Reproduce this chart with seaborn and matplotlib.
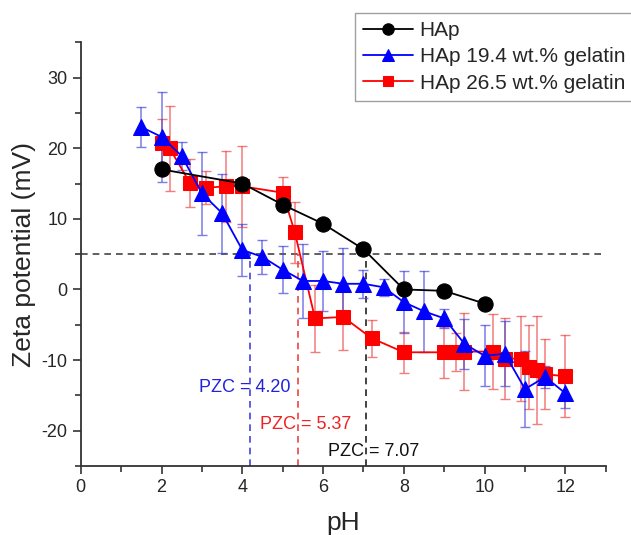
import matplotlib
matplotlib.use("Agg")
import matplotlib.pyplot as plt
import seaborn as sns
import pandas as pd
from matplotlib.ticker import MultipleLocator

# ---- data ----
ph_hap = [2, 4, 5, 6, 7, 8, 9, 10]
zeta_hap = [17.0, 15.0, 12.0, 9.3, 5.7, 0.0, -0.2, -2.0]

ph_g194 = [1.5, 2.0, 2.5, 3.0, 3.5, 4.0, 4.5, 5.0, 5.5, 6.0, 6.5, 7.0, 7.5,
           8.0, 8.5, 9.0, 9.5, 10.0, 10.5, 11.0, 11.5, 12.0]
zeta_g194 = [23.0, 21.6, 18.9, 13.6, 10.8, 5.6, 4.6, 2.8, 1.2, 1.2, 0.8, 0.8, 0.3,
             -1.8, -3.1, -4.1, -7.7, -9.4, -9.1, -14.1, -12.4, -14.7]
err_g194 = [2.8, 6.4, 2.0, 5.9, 5.6, 3.7, 2.4, 3.3, 5.3, 4.3, 5.0, 2.0, 1.2,
            4.4, 5.7, 1.3, 3.5, 4.3, 4.6, 5.4, 1.5, 2.1]

ph_g265 = [2.0, 2.2, 2.7, 3.1, 3.6, 4.0, 5.0, 5.3, 5.8, 6.5, 7.2, 8.0, 9.0,
           9.3, 9.5, 10.2, 10.5, 10.9, 11.1, 11.3, 11.5, 12.0]
zeta_g265 = [20.7, 20.0, 15.1, 14.4, 14.6, 14.6, 13.7, 8.1, -4.1, -3.9, -6.9, -8.9, -8.9,
             -8.9, -8.8, -8.8, -9.8, -9.8, -11.0, -11.4, -12.0, -12.3]
err_g265 = [3.5, 6.0, 3.4, 2.3, 5.0, 5.7, 2.2, 4.3, 4.7, 4.7, 2.6, 2.9, 3.6,
            2.7, 5.5, 5.3, 5.7, 6.0, 6.0, 7.6, 5.0, 5.8]

pzc_values = [4.20, 5.37, 7.07]
pzc_labels = ["PZC = 4.20", "PZC = 5.37", "PZC = 7.07"]
ref_level = 5

labels = ["HAp", "HAp 19.4 wt.% gelatin", "HAp 26.5 wt.% gelatin"]

# ---- style ----
sns.set_style("ticks")
plt.rcParams["font.family"] = ["Liberation Sans", "DejaVu Sans"]
plt.rcParams["axes.unicode_minus"] = False

fig = plt.figure(figsize=(6.31, 5.35), dpi=100)
ax = fig.add_axes([0.128, 0.129, 0.832, 0.792])

df_hap = pd.DataFrame({"pH": ph_hap, "zeta": zeta_hap})
df_194 = pd.DataFrame({"pH": ph_g194, "zeta": zeta_g194})
df_265 = pd.DataFrame({"pH": ph_g265, "zeta": zeta_g265})

# error bars
ax.errorbar(ph_g265, zeta_g265, yerr=err_g265, fmt="none", ecolor="#ee4444",
            elinewidth=1.1, capsize=3.5, capthick=1.0, alpha=0.7, zorder=2)
ax.errorbar(ph_g194, zeta_g194, yerr=err_g194, fmt="none", ecolor="#4444dd",
            elinewidth=1.1, capsize=3.5, capthick=1.0, alpha=0.7, zorder=2)

# lines
sns.lineplot(data=df_hap, x="pH", y="zeta", ax=ax, color="black", marker="o",
             markersize=11, markeredgecolor="black", linewidth=1.3, sort=False,
             estimator=None, label=labels[0], zorder=5)
sns.lineplot(data=df_194, x="pH", y="zeta", ax=ax, color="#0000ff", marker="^",
             markersize=12, markeredgecolor="#0000ff", linewidth=1.3, sort=False,
             estimator=None, label=labels[1], zorder=4)
sns.lineplot(data=df_265, x="pH", y="zeta", ax=ax, color="#ff0000", marker="s",
             markersize=10, markeredgecolor="#ff0000", linewidth=1.3, sort=False,
             estimator=None, label=labels[2], zorder=3)

# reference dashed lines
ax.plot([0, 13], [ref_level, ref_level], ls=(0, (4, 3)), color="#444444", lw=1.2, zorder=1)
pzc_colors = ["#4444dd", "#ee4444", "#222222"]
for v, c in zip(pzc_values, pzc_colors):
    ax.plot([v, v], [-25, ref_level], ls=(0, (4, 3)), color=c, lw=1.2, zorder=1)

# annotations
ax.text(2.92, -13.9, pzc_labels[0], color="#2222dd", fontsize=13, va="center", ha="left")
ax.text(4.43, -19.1, pzc_labels[1], color="#ee2222", fontsize=13, va="center", ha="left")
ax.text(6.11, -23.0, pzc_labels[2], color="#111111", fontsize=13, va="center", ha="left")

ax.set_xlim(0, 13)
ax.set_ylim(-25, 35)
ax.set_xticks([0, 2, 4, 6, 8, 10, 12])
ax.set_yticks([-20, -10, 0, 10, 20, 30])
ax.xaxis.set_minor_locator(MultipleLocator(1))
ax.yaxis.set_minor_locator(MultipleLocator(5))
ax.tick_params(axis="both", which="major", direction="out", length=6, width=1.2,
               labelsize=13, color="#333333")
ax.tick_params(axis="both", which="minor", direction="out", length=4, width=1.2,
               color="#333333")
for s in ["top", "right"]:
    ax.spines[s].set_visible(False)
for s in ["left", "bottom"]:
    ax.spines[s].set_linewidth(1.3)
    ax.spines[s].set_color("#333333")

ax.set_xlabel("pH", fontsize=19, labelpad=11)
ax.set_ylabel("Zeta potential (mV)", fontsize=19, labelpad=4)

ax.legend(loc="upper left", bbox_to_anchor=(0.5626, 0.9757), bbox_transform=fig.transFigure,
          fontsize=15, frameon=True, fancybox=False, edgecolor="#888888",
          borderpad=0.4, labelspacing=0.34, handlelength=2.4, handletextpad=0.3,
          borderaxespad=0, markerscale=0.75)
ax.get_legend().get_frame().set_linewidth(1.0)

fig.savefig("out.png", dpi=100)
